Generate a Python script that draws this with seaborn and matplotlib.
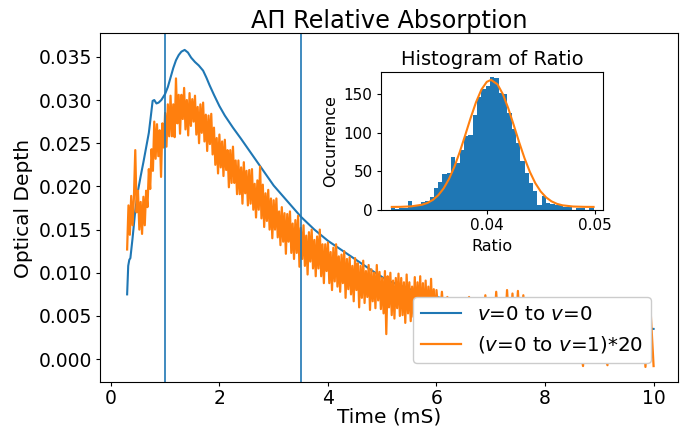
import numpy as np
import seaborn as sns
from matplotlib import pyplot as plt

# v=0 -> v=0 optical depth (smooth trace)
blue_t = [0.30, 0.32, 0.34, 0.36, 0.40, 0.45, 0.50, 0.55, 0.60, 0.65, 0.70, 0.74, 0.77,
          0.80, 0.84, 0.88, 0.93, 1.00, 1.05, 1.10, 1.15, 1.20, 1.25, 1.30, 1.36, 1.42,
          1.48, 1.55, 1.62, 1.70, 1.76, 1.82, 1.90, 2.00, 2.10, 2.25, 2.40, 2.60, 2.80,
          3.00, 3.25, 3.50, 3.75, 4.00, 4.40, 4.80, 5.10, 5.50, 6.0, 6.5, 7.0, 7.5, 8.0,
          8.5, 9.0, 9.5, 10.0]
blue_od = [0.0075, 0.0108, 0.0115, 0.0117, 0.0140, 0.0172, 0.0195, 0.0212, 0.0228, 0.0245,
           0.0262, 0.0283, 0.0299, 0.0300, 0.0296, 0.0297, 0.0300, 0.0307, 0.0315, 0.0326,
           0.0337, 0.0346, 0.0352, 0.0356, 0.0358, 0.0355, 0.0349, 0.0344, 0.0340, 0.0334,
           0.0326, 0.0317, 0.0306, 0.0293, 0.0282, 0.0268, 0.0255, 0.0237, 0.0219, 0.0201,
           0.0183, 0.0165, 0.0150, 0.0137, 0.0120, 0.0103, 0.0091, 0.0081, 0.0072, 0.0065,
           0.0058, 0.0053, 0.0048, 0.0044, 0.0040, 0.0037, 0.0035]

# (v=0 -> v=1)*20, noisy trace, in units of 1e-4
# orange_a: t = 0.300 ... 5.975 every 0.025
orange_a = [127, 178, 144, 189, 155, 187, 242, 170, 195, 150,
            182, 145, 188, 155, 195, 176, 220, 197, 243, 218,
            275, 232, 272, 235, 265, 211, 273, 245, 285, 246,
            295, 258, 305, 258, 295, 257, 325, 273, 306, 261,
            306, 278, 314, 266, 300, 259, 308, 270, 301, 275,
            305, 260, 292, 250, 295, 262, 297, 252, 283, 241,
            282, 249, 284, 237, 268, 225, 256, 215, 260, 222,
            252, 212, 254, 219, 242, 199, 242, 204, 246, 204,
            230, 191, 230, 191, 222, 180, 228, 192, 218, 178,
            219, 180, 220, 173, 203, 164, 207, 173, 223, 163,
            202, 153, 192, 160, 196, 150, 186, 140, 184, 150,
            186, 141, 171, 132, 176, 136, 169, 122, 168, 136,
            171, 123, 157, 116, 161, 123, 166, 107, 152, 116,
            155, 108, 143, 98, 147, 113, 150, 105, 138, 96,
            142, 105, 150, 96, 133, 88, 133, 102, 135, 88,
            124, 80, 129, 90, 133, 84, 119, 78, 121, 88,
            125, 71, 116, 81, 118, 75, 108, 67, 117, 80,
            111, 60, 108, 71, 114, 65, 102, 72, 109, 57,
            104, 67, 100, 59, 109, 68, 101, 58, 94, 53,
            102, 29, 96, 60, 100, 51, 91, 47, 94, 59,
            99, 50, 94, 51, 89, 42, 98, 53, 89, 44,
            84, 49, 95, 44, 89, 51, 96, 40, 88, 43,
            91, 45, 84, 40, 93, 45, 81, 40]
# orange_b: t = 6.00 ... 10.00 every 0.05
orange_b = [80, 40, 78, 35, 72, 38, 66, 30, 70, 36,
            64, 28, 72, 34, 62, 30, 70, 26, 74, 32,
            60, 24, 78, 30, 64, 22, 80, 28, 76, 20,
            79, 26, 74, 24, 58, 18, 60, 22, 56, 16,
            62, 20, 54, 12, 58, 18, 52, 10, 60, 14,
            55, 8, 50, 12, -8, 54, 10, 48, 6, 56,
            12, 46, 4, -7, 50, 8, 44, 2, 52, 10,
            42, 0, 48, 6, 40, 2, 46, -9, 38, 50,
            -8]

# histogram of ratio
ratio_lo = 0.0311
ratio_bw = 0.0004
ratio_counts = [3, 1, 3, 2, 11, 5, 6, 10, 11, 17, 28, 36, 46, 48, 69, 61, 78, 95, 97, 123,
                146, 156, 160, 172, 171, 151, 150, 125, 104, 86, 63, 48, 35, 24, 7, 18, 9, 8,
                6, 6, 4, 4, 0, 2, 2, 0, 2, 0]
fit_x = [0.0312, 0.0320, 0.0330, 0.0340, 0.0345, 0.0350, 0.0355, 0.0360, 0.0365, 0.0370,
         0.0375, 0.0380, 0.0385, 0.0390, 0.0395, 0.0400, 0.0404, 0.0410, 0.0415, 0.0420,
         0.0425, 0.0430, 0.0435, 0.0440, 0.0445, 0.0450, 0.0455, 0.0460, 0.0465, 0.0470,
         0.0480, 0.0490, 0.0499]
fit_y = [4.0, 4.1, 4.7, 6.8, 9.1, 13.0, 19.0, 27.8, 40.0, 55.8, 74.9, 96.4, 118.5, 138.9,
         155.3, 165.4, 168.0, 162.2, 149.4, 131.1, 109.7, 87.6, 66.9, 49.1, 34.7, 23.9,
         16.3, 11.2, 8.0, 6.1, 4.5, 4.1, 4.0]

od_ticks = [0.000, 0.005, 0.010, 0.015, 0.020, 0.025, 0.030, 0.035]

t_a = 0.3 + 0.025 * np.arange(len(orange_a))
t_b = 6.0 + 0.05 * np.arange(len(orange_b))
orange_t = np.concatenate([t_a, t_b])
orange_od = np.array(orange_a + orange_b) * 1e-4

plt.rcParams['font.size'] = 14.5
plt.rcParams['xtick.major.size'] = 3
plt.rcParams['ytick.major.size'] = 3
plt.rcParams['xtick.major.pad'] = 1.5
plt.rcParams['ytick.major.pad'] = 3

fig = plt.figure(figsize=(6.83, 4.3), dpi=100)
ax = fig.add_axes([0.1464, 0.1105, 0.8463, 0.8116])
sns.lineplot(x=blue_t, y=blue_od, ax=ax, color='C0', lw=1.5, sort=False,
             label='$v$=0 to $v$=0')
sns.lineplot(x=orange_t, y=orange_od, ax=ax, color='C1', lw=1.6, sort=False,
             label='($v$=0 to $v$=1)*20')
ax.axvline(1.0, color='C0', lw=1.2)
ax.axvline(3.5, color='C0', lw=1.2)
ax.set_xlim(-0.2, 10.45)
ax.set_ylim(-0.0027, 0.0377)
ax.set_yticks(od_ticks)
ax.set_yticklabels([f'{v:.3f}' for v in od_ticks])
ax.tick_params(labelsize=13.5)
ax.set_xlabel('Time (mS)', labelpad=0)
ax.set_ylabel('Optical Depth')
ax.set_title('AΠ Relative Absorption', fontsize=17.3, pad=4)
ax.legend(loc='lower right', bbox_to_anchor=(0.9528, 0.055), borderaxespad=0,
          framealpha=1, fontsize=14.3)

# inset histogram
axin = fig.add_axes([0.5578, 0.5116, 0.3255, 0.3216])
edges = [ratio_lo + ratio_bw * k for k in range(len(ratio_counts) + 1)]
centers = [e + ratio_bw / 2 for e in edges[:-1]]
sns.histplot(x=centers, weights=ratio_counts, bins=edges, ax=axin, color='C0', alpha=1,
             linewidth=0)
sns.lineplot(x=fit_x, y=fit_y, ax=axin, color='C1', lw=1.5)
axin.set_xlim(0.0302, 0.0508)
axin.set_ylim(0, 178.5)
axin.set_xticks([0.04, 0.05])
axin.set_xticklabels(['0.04', '0.05'])
axin.tick_params(labelsize=11)
axin.tick_params(axis='x', pad=3)
axin.set_xlabel('Ratio', fontsize=11.5)
axin.set_ylabel('Occurrence', fontsize=11.5)
axin.set_title('Histogram of Ratio', fontsize=14, pad=5)

fig.savefig('out.png', dpi=100)
